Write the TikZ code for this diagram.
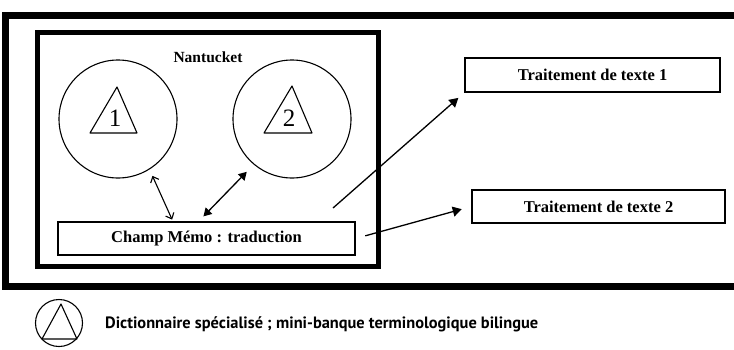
\documentclass[tikz,border=0pt]{standalone}
\usepackage{fontspec}
\setmainfont{Liberation Serif}
\newfontfamily\legendfont{PT Sans}
\usetikzlibrary{arrows.meta,shapes}

\tikzset{
  wbox/.style={draw, line width=1.2pt, inner sep=0pt, font=\bfseries\fontsize{16.5}{19}\selectfont},
  dict/.style={draw, circle, line width=1.1pt, minimum size=118pt, inner sep=0pt},
  bigtip/.style={line width=1.3pt, -{Triangle[length=9pt,width=10pt]}},
  thinboth/.style={line width=1.1pt, {Straight Barb[length=5pt,width=9pt]}-{Straight Barb[length=5pt,width=9pt]}},
  thickboth/.style={line width=1.3pt, {Triangle[length=8pt,width=9pt]}-{Triangle[length=8pt,width=9pt]}},
}

\begin{document}
\begin{tikzpicture}[x=1pt,y=-1pt]
            \useasboundingbox (0,0) rectangle (734,349);
            % cadres
            \draw[line width=7pt] (734,15) -- (5,15) -- (5,286) -- (734,286);
            \draw[line width=5pt] (37,32) rectangle (378,266);
            \node[font=\bfseries\fontsize{15.5}{18}\selectfont] (nant) at (208,57) {Nantucket};
            % dictionnaires
            \node[dict] (dict1) at (118,119) {};
            \node[dict] (dict2) at (292,119) {};
            \draw[line width=1.1pt,line join=round] (dict1) ++(-1,-32) -- ++(-27,46) -- ++(47,0) -- cycle;
            \draw[line width=1.1pt,line join=round] (dict2) ++(0,-33) -- ++(-28,47) -- ++(48,0) -- cycle;
            \node[font=\fontsize{25}{28}\selectfont] (n1) at (115,118) {1};
            \node[font=\fontsize{25}{28}\selectfont] (n2) at (289,118) {2};
            % boites
            \node[wbox, minimum width=297pt, minimum height=33pt] (memo) at (206.5,238.5) {Champ Mémo : traduction};
            \node[wbox, minimum width=255pt, minimum height=34pt] (tt1) at (592.5,75) {Traitement de texte 1};
            \node[wbox, minimum width=253pt, minimum height=33pt] (tt2) at (598.5,206.5) {Traitement de texte 2};
            % fleches
            \draw[thinboth, shorten <=7pt, shorten >=2pt] (dict1.302) -- (memo.153.8);
            \draw[thickboth, shorten <=10pt, shorten >=7pt] (dict2.230) -- (memo.115);
            \coordinate (s1) at (333,208);
            \draw[bigtip, shorten >=8pt] (s1) -- (tt1.south west);
            \draw[bigtip, shorten <=10pt, shorten >=10pt] (memo.east) -- (tt2.west);
            % legende
            \node[draw, circle, line width=1.1pt, minimum size=47pt] (leg) at (59,323) {};
            \draw[line width=1.1pt,line join=round] (leg) ++(2,-19) -- ++(-19,35) -- ++(35,0) -- cycle;
            \node[anchor=west, inner sep=0pt, font=\legendfont\bfseries\fontsize{16.4}{19}\selectfont] (legtxt) at (105,324) {Dictionnaire spécialisé ; mini-banque terminologique bilingue};
        \end{tikzpicture}
\end{document}
